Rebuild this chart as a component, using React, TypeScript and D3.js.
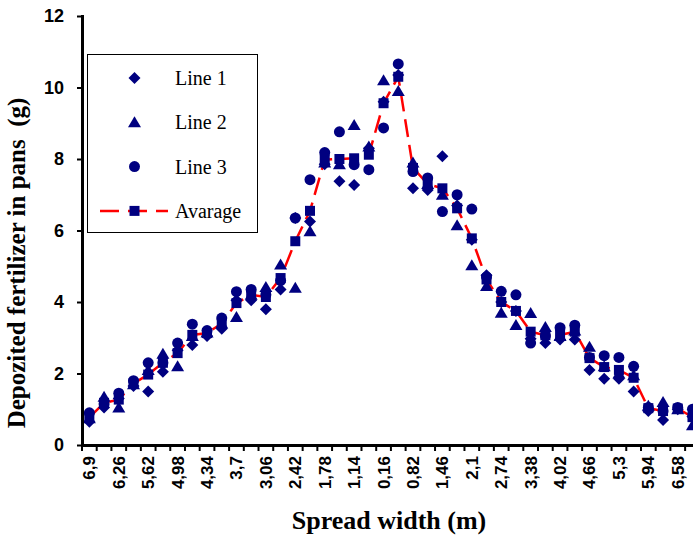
import { useEffect, useRef } from 'react'
import * as d3 from 'd3'

const W = 693
const H = 537
// plot frame: y axis at x=82, 0 at y=445, 12 at y=16; category band ~14.7px (last band is cut by the picture edge)
const PLOT = { left: 82, top: 16, bottom: 445, band: 14.71 }

const NAVY = '#000080'
const RED = '#ff0000'
const SERIF = '"Liberation Serif", "Times New Roman", serif'
const SANS = '"Liberation Sans", Arial, sans-serif'

// distance from the centre line (m), left half then right half
const categories = [
  '6,9', '6,58', '6,26', '5,94', '5,62', '5,3', '4,98', '4,66', '4,34', '4,02',
  '3,7', '3,38', '3,06', '2,74', '2,42', '2,1', '1,78', '1,46', '1,14', '0,82',
  '0,16',
  '0,5', '0,82', '1,14', '1,46', '1,78', '2,1', '2,42', '2,74', '3,06', '3,38',
  '3,7', '4,02', '4,34', '4,66', '4,98', '5,3', '5,62', '5,94', '6,26', '6,58', '6,9',
]

const line1 = [
  0.65, 1.05, 1.3, 1.65, 1.5, 2.05, 2.65, 2.8, 3.05, 3.25,
  4.05, 4.05, 3.8, 4.35, 6.35, 6.25, 7.85, 7.38, 7.27, 8.3,
  9.6,
  10.35, 7.18, 7.13, 8.08, 6.7, 5.74, 4.75, 4.0, 3.75, 2.97,
  2.85, 2.95, 2.95, 2.1, 1.85, 1.85, 1.5, 0.95, 0.7, 1.0, 0.8,
]
const line2 = [
  0.75, 1.35, 1.05, 1.7, 2.1, 2.55, 2.2, 3.05, 3.15, 3.4,
  3.58, 4.2, 4.42, 5.05, 4.4, 5.98, 7.9, 7.85, 8.95, 8.35,
  10.2,
  9.9, 7.9, 7.3, 7.0, 6.15, 5.03, 4.45, 3.7, 3.36, 3.69,
  3.3, 3.05, 3.2, 2.75, 2.2, 2.0, 1.95, 1.1, 1.2, 1.0, 0.55,
]
const line3 = [
  0.9, 1.15, 1.45, 1.8, 2.3, 2.3, 2.85, 3.38, 3.2, 3.55,
  4.29, 4.35, 4.2, 4.6, 6.35, 7.42, 8.18, 8.76, 7.84, 7.7,
  8.87,
  10.66, 7.65, 7.47, 6.53, 7.0, 6.6, 4.7, 4.3, 4.2, 2.85,
  3.05, 3.28, 3.35, 2.45, 2.5, 2.45, 2.2, 1.05, 0.95, 1.05, 1.0,
]
const average = [
  0.77, 1.18, 1.27, 1.72, 1.97, 2.3, 2.57, 3.08, 3.13, 3.4,
  3.97, 4.2, 4.14, 4.67, 5.7, 6.55, 7.98, 8.0, 8.02, 8.12,
  9.56,
  10.3, 7.75, 7.3, 7.18, 6.62, 5.78, 4.63, 4.0, 3.75, 3.17,
  3.07, 3.08, 3.17, 2.43, 2.18, 2.1, 1.88, 1.03, 0.95, 1.02, 0.78,
]

const yTicks = [0, 2, 4, 6, 8, 10, 12]
const legendLabels = ['Line 1', 'Line 2', 'Line 3', 'Avarage']

const DIAMOND = 'M0,-6L6,0L0,6L-6,0Z'
const TRIANGLE = 'M0,-6L6.5,5L-6.5,5Z'
const CIRCLE = d3.symbol(d3.symbolCircle, Math.PI * 5.5 * 5.5)() as string
const SQUARE = 'M-5,-5H5V5H-5Z'

export default function App() {
  const svgRef = useRef<SVGSVGElement | null>(null)

  useEffect(() => {
    if (!svgRef.current) return
    const svg = d3.select(svgRef.current)
    svg.selectAll('*').remove()

    const idx = categories.map((_, i) => String(i))
    const x = d3.scaleBand<string>()
      .domain(idx)
      .range([PLOT.left, PLOT.left + categories.length * PLOT.band])
    const y = d3.scaleLinear().domain([0, 12]).range([PLOT.bottom, PLOT.top])
    const cx = (i: number) => (x(String(i)) as number) + x.bandwidth() / 2

    svg.append('rect').attr('width', W).attr('height', H).attr('fill', '#fff')

    // average line (drawn under the markers)
    const line = d3.line<number>().x((_, i) => cx(i)).y(d => y(d))
    svg.append('path').datum(average).attr('d', line)
      .attr('fill', 'none').attr('stroke', RED).attr('stroke-width', 2.5)
      .attr('stroke-dasharray', '18,8')

    const series = [
      { values: line1, shape: DIAMOND },
      { values: line2, shape: TRIANGLE },
      { values: line3, shape: CIRCLE },
      { values: average, shape: SQUARE },
    ]
    series.forEach(s => {
      svg.append('g').selectAll('path').data(s.values).join('path')
        .attr('d', s.shape)
        .attr('transform', (d, i) => `translate(${cx(i)},${y(d)})`)
        .attr('fill', NAVY)
    })

    // y axis
    svg.append('g')
      .attr('transform', `translate(${PLOT.left},0)`)
      .call(d3.axisLeft(y).tickValues(yTicks).tickSize(5).tickSizeOuter(0).tickPadding(13))
      .call(g => g.select('.domain').attr('stroke', '#000').attr('stroke-width', 3).attr('stroke-linecap', 'square'))
      .call(g => g.selectAll('.tick line').attr('stroke', '#000').attr('stroke-width', 2))
      .call(g => g.selectAll('.tick text')
        .attr('font-family', SANS).attr('font-weight', 'bold').attr('font-size', 18).attr('fill', '#000'))

    // x axis: labels on every other category, ticks on the band edges
    const xAxis = svg.append('g')
      .attr('transform', `translate(0,${PLOT.bottom})`)
      .call(d3.axisBottom(x)
        .tickValues(idx.filter((_, i) => i % 2 === 0))
        .tickFormat(d => categories[+d])
        .tickSize(0).tickSizeOuter(0))
    xAxis.select('.domain').attr('stroke', '#000').attr('stroke-width', 3).attr('stroke-linecap', 'square')
    xAxis.selectAll('.tick text')
      .attr('transform', 'rotate(-90)')
      .attr('x', -11).attr('y', 0).attr('dy', '0.35em')
      .attr('text-anchor', 'end')
      .attr('font-family', SANS).attr('font-weight', 'bold').attr('font-size', 17).attr('fill', '#000')
    xAxis.append('g').selectAll('line').data(d3.range(categories.length + 1)).join('line')
      .attr('x1', i => PLOT.left + i * x.step()).attr('x2', i => PLOT.left + i * x.step())
      .attr('y1', 0).attr('y2', 6)
      .attr('stroke', '#000').attr('stroke-width', 2)

    // axis titles
    svg.append('text')
      .attr('transform', `translate(25,263) rotate(-90)`)
      .attr('text-anchor', 'middle')
      .attr('font-family', SERIF).attr('font-weight', 'bold').attr('font-size', 25)
      .style('white-space', 'pre')
      .text('Depozited fertilizer in pans  (g)')
    svg.append('text')
      .attr('x', 389).attr('y', 529)
      .attr('text-anchor', 'middle')
      .attr('font-family', SERIF).attr('font-weight', 'bold').attr('font-size', 26)
      .text('Spread width (m)')

    // legend
    const lg = svg.append('g')
    lg.append('rect')
      .attr('x', 87.5).attr('y', 54.5).attr('width', 170).attr('height', 178)
      .attr('fill', '#fff').attr('stroke', '#000').attr('stroke-width', 1)
    const shapes = [DIAMOND, TRIANGLE, CIRCLE, SQUARE]
    legendLabels.forEach((label, i) => {
      const ry = 78 + i * 44.3
      if (i === 3) {
        lg.append('line')
          .attr('x1', 100).attr('x2', 168).attr('y1', ry).attr('y2', ry)
          .attr('stroke', RED).attr('stroke-width', 2.5).attr('stroke-dasharray', '19,9')
      }
      lg.append('path').attr('d', shapes[i])
        .attr('transform', `translate(134.5,${ry})`).attr('fill', NAVY)
      lg.append('text')
        .attr('x', 175).attr('y', ry + 7)
        .attr('font-family', SERIF).attr('font-size', 20).attr('fill', '#000')
        .text(label)
    })
  }, [])

  return (
    <svg
      ref={svgRef}
      width={W}
      height={H}
      style={{ position: 'absolute', left: 0, top: 0, overflow: 'hidden' }}
    />
  )
}
